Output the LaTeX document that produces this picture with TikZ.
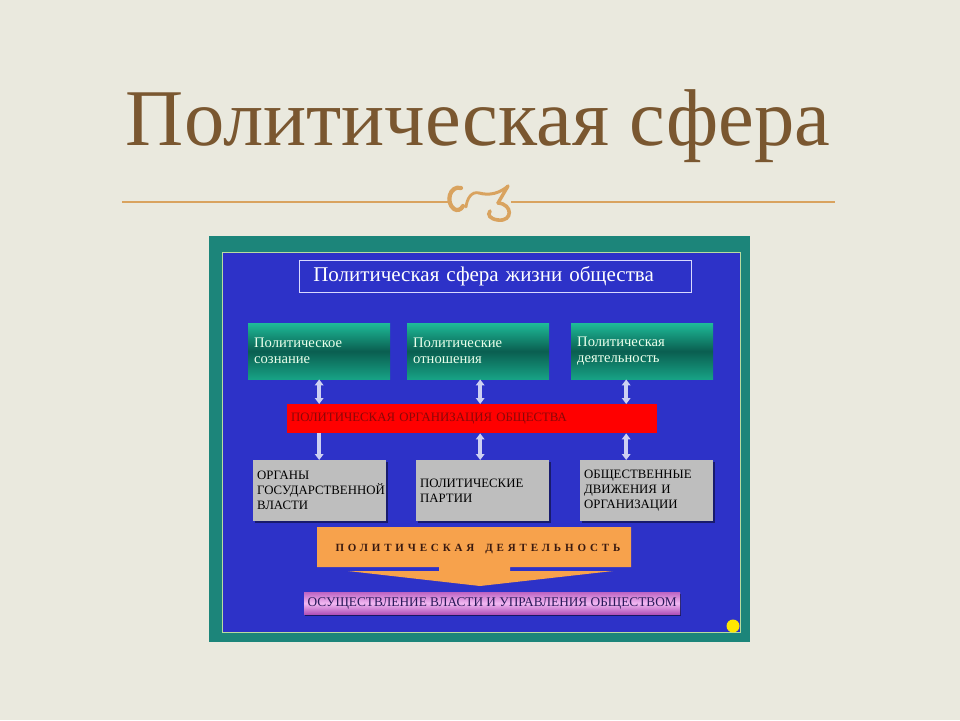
\documentclass[tikz,border=0pt]{standalone}
\usepackage{fontspec}
\setmainfont{Liberation Serif}
\newfontfamily\spacedfont[LetterSpace=35]{Liberation Serif}
\usetikzlibrary{arrows.meta,shadows}
\definecolor{bgc}{HTML}{EAE9DE}
\definecolor{titlec}{HTML}{7A5730}
\definecolor{ornc}{HTML}{D9A35F}
\definecolor{tealc}{HTML}{1C857A}
\definecolor{bluec}{HTML}{2D32C8}
\definecolor{framel}{HTML}{B8DCA0}
\definecolor{greenlt}{HTML}{1EBB98}
\definecolor{greendk}{HTML}{0A5E50}
\definecolor{greenbt}{HTML}{17A285}
\definecolor{grayc}{HTML}{BEBEBE}
\definecolor{orangec}{HTML}{F7A24C}
\definecolor{pinklt}{HTML}{F2B8F2}
\definecolor{pinkdk}{HTML}{B050B8}
\definecolor{arrowc}{HTML}{CDD0F2}
\definecolor{redtext}{HTML}{8A0808}
\definecolor{pinktext}{HTML}{2A1A5A}
\definecolor{orangetext}{HTML}{3A1A10}
\tikzset{
  greenbox/.style={anchor=north west, minimum width=142pt, minimum height=56pt,
    text width=130pt, inner xsep=6pt, align=left, text=white!92!green,
    top color=greenlt, bottom color=greenbt, middle color=greendk,
    font=\fontsize{14.6}{16}\selectfont},
  graybox/.style={anchor=north west, minimum width=133pt, minimum height=61pt,
    text width=125pt, inner xsep=4pt, align=left, fill=grayc, text=black,
    drop shadow={shadow xshift=1.5pt, shadow yshift=-1.5pt, fill=black, opacity=.45},
    font=\fontsize{12.8}{15}\selectfont},
  dblarrow/.style={draw=arrowc, line width=3.6pt, {Triangle[width=8.5pt,length=6pt]}-{Triangle[width=8.5pt,length=6pt]}},
  downarrow/.style={draw=arrowc, line width=3.6pt, -{Triangle[width=8.5pt,length=6pt]}},
  orn/.style={draw=ornc, line width=2.6pt, line cap=round}
}
\begin{document}
\begin{tikzpicture}[x=1pt,y=-1pt]
\useasboundingbox (0,0) rectangle (960,720);
\fill[bgc] (0,0) rectangle (960,720);
% title
\node[text=titlec, font=\fontsize{80.5}{84}\selectfont, inner sep=0pt] (title) at (478,126) {Политическая сфера};
% rule and ornament
\draw[ornc, line width=1.1pt] (122,202) -- (449,202);
\draw[ornc, line width=1.1pt] (511,202) -- (835,202);
\draw[orn, line width=4.2pt] (461,188) .. controls (450,185) and (445,202) .. (454,209) .. controls (457,211) and (461,210) .. (463,206);
\draw[orn, line width=2.8pt] (466,207) .. controls (467,198) and (472,191) .. (479,193);
\draw[orn, line width=3pt] (479,193) .. controls (490,196) and (500,193) .. (508,186);
\draw[orn, line width=3.4pt] (508,186) -- (498,203);
\draw[orn, line width=3.6pt] (498,203) .. controls (513,204) and (513,222) .. (498,220) .. controls (490,219) and (487,215) .. (490,211);
% frame
\fill[tealc] (209,236) rectangle (750,642);
\fill[bluec] (222,252) rectangle (740,632);
\draw[framel, line width=0.9pt] (222,252) rectangle (740,632);
% header box
\node[anchor=north west, draw=white!85!blue, line width=0.6pt, minimum width=392pt, minimum height=32pt,
  text width=364pt, inner xsep=14pt, align=left, text=white, font=\fontsize{21}{23}\selectfont] (hdr) at (299,260) {Политическая сфера жизни общества};
% green boxes
\node[greenbox] (g1) at (248,323) {Политическое\\сознание};
\node[greenbox] (g2) at (407,323) {Политические\\отношения};
\node[greenbox] (g3) at (571,323) {Политическая\\деятельность};
% red bar
\node[anchor=north west, fill=red, minimum width=370pt, minimum height=29pt, text width=362pt, inner xsep=4pt,
  align=left, text=redtext, font=\fontsize{12.8}{14}\selectfont] (red) at (287,404) {ПОЛИТИЧЕСКАЯ ОРГАНИЗАЦИЯ ОБЩЕСТВА};
% gray boxes
\node[graybox] (o1) at (253,460) {ОРГАНЫ\\ГОСУДАРСТВЕННОЙ\\ВЛАСТИ};
\node[graybox] (o2) at (416,460) {ПОЛИТИЧЕСКИЕ\\ПАРТИИ};
\node[graybox] (o3) at (580,460) {ОБЩЕСТВЕННЫЕ\\ДВИЖЕНИЯ И\\ОРГАНИЗАЦИИ};
% arrows
\coordinate (a1) at (g1.south);
\coordinate (a2) at ([xshift=2pt]g2.south);
\coordinate (a3) at ([xshift=-16pt]g3.south);
\draw[dblarrow] (a1) -- (a1 |- red.north);
\draw[dblarrow] (a2) -- (a2 |- red.north);
\draw[dblarrow] (a3) -- (a3 |- red.north);
\draw[downarrow] (red.south -| a1) -- (o1.north -| a1);
\draw[dblarrow] (red.south -| a2) -- (o2.north -| a2);
\draw[dblarrow] (red.south -| a3) -- (o3.north -| a3);
% orange block arrow
\fill[orangec] (317,527) -- (631,527) -- (631,567) -- (510,567) -- (510,571) -- (613,571) -- (480,586)
  -- (348,571) -- (439,571) -- (439,567) -- (317,567) -- cycle;
\node[anchor=west, text=orangetext, font=\fontsize{11}{13}\selectfont\bfseries\spacedfont] (act) at (332,549)
  {ПОЛИТИЧЕСКАЯ\hspace{11pt}ДЕЯТЕЛЬНОСТЬ};
% pink bar
\node[anchor=north west, minimum width=376pt, minimum height=22pt, inner sep=0pt,
  top color=pinkdk!80!pinklt, bottom color=pinkdk, middle color=pinklt,
  drop shadow={shadow xshift=1pt, shadow yshift=-2pt, fill=black, opacity=.5},
  text=pinktext, font=\fontsize{13.3}{15}\selectfont] (pink) at (304,592) {ОСУЩЕСТВЛЕНИЕ ВЛАСТИ И УПРАВЛЕНИЯ ОБЩЕСТВОМ};
% yellow dot
\fill[yellow!90!orange] (733,626) circle (6.5pt);
\end{tikzpicture}
\end{document}
